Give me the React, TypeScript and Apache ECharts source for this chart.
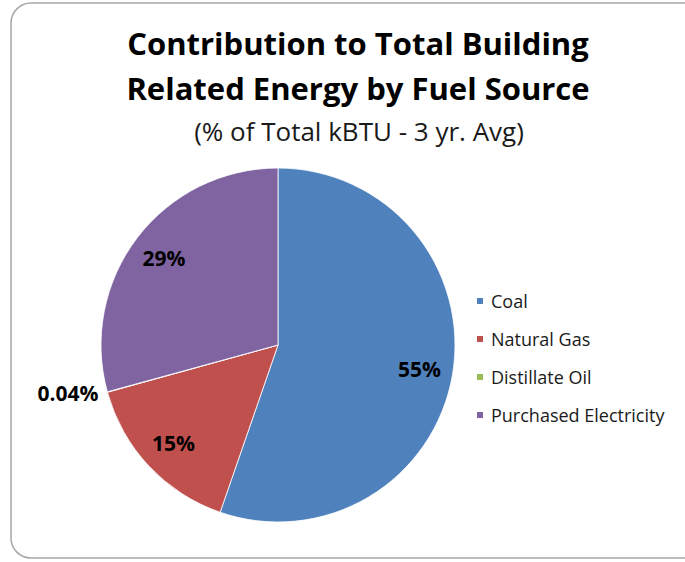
import React, { useEffect, useRef } from "react";
import * as echarts from "echarts";

const categories = ["Coal", "Natural Gas", "Distillate Oil", "Purchased Electricity"];
const values = [55.3, 15.4, 0.04, 29.26];
const valueLabels = ["55%", "15%", "0.04%", "29%"];
const colors = ["#4F81BD", "#C0504D", "#9BBB59", "#8064A2"];
const outsideLabel = [false, false, true, false];

const FONT = "'Open Sans', Lato, sans-serif";

export default function App() {
  const ref = useRef<HTMLDivElement>(null);
  useEffect(() => {
    if (!ref.current) return;
    const chart = echarts.init(ref.current, undefined, { renderer: "svg" });
    const center = [278, 345];
    const R = 177;
    const labelStyle = {
      fontSize: 21,
      fontWeight: "bold",
      color: "#000",
      fontFamily: FONT,
    };
    const mainData = categories.map((name, i) => ({
      name,
      value: values[i],
      itemStyle: { color: colors[i] },
      label: outsideLabel[i]
        ? { show: true, position: "outside", formatter: valueLabels[i], ...labelStyle }
        : { show: false },
      labelLine: { show: false, length: 4, length2: 0 },
    }));
    const overlayData = categories.map((name, i) => ({
      name,
      value: values[i],
      itemStyle: { color: "rgba(0,0,0,0)" },
      label: outsideLabel[i]
        ? { show: false }
        : { show: true, position: "inside", formatter: valueLabels[i], ...labelStyle },
    }));
    chart.setOption({
      animation: false,
      backgroundColor: "#fff",
      title: [
        {
          text: "Contribution to Total Building\nRelated Energy by Fuel Source",
          left: 353,
          top: 15,
          textAlign: "center",
          textStyle: {
            fontFamily: FONT,
            fontSize: 31,
            fontWeight: "bold",
            color: "#000",
            lineHeight: 45,
          },
        },
        {
          text: "(% of Total kBTU - 3 yr. Avg)",
          left: 354,
          top: 113,
          textAlign: "center",
          textStyle: {
            fontFamily: FONT,
            fontSize: 26,
            fontWeight: "normal",
            color: "#1a1a1a",
          },
        },
      ],
      legend: {
        orient: "vertical",
        left: 470,
        top: 287,
        data: categories,
        itemWidth: 8,
        itemHeight: 8,
        itemGap: 20,
        icon: "rect",
        textStyle: { fontFamily: FONT, fontSize: 18, color: "#1a1a1a", padding: [0, 0, 0, 2] },
        selectedMode: false,
      },
      graphic: [
        {
          type: "rect",
          shape: { x: 11, y: 3, width: 720, height: 555, r: 20 },
          style: { fill: "none", stroke: "#a6a6a6", lineWidth: 1.5 },
          silent: true,
          z: -1,
        },
      ],
      series: [
        {
          type: "pie",
          center,
          radius: [0, R],
          startAngle: 90,
          clockwise: true,
          avoidLabelOverlap: false,
          itemStyle: { borderColor: "#fff", borderWidth: 0.8 },
          emphasis: { disabled: true },
          data: mainData,
        },
        {
          type: "pie",
          center,
          radius: [104, R],
          startAngle: 90,
          clockwise: true,
          silent: true,
          avoidLabelOverlap: false,
          emphasis: { disabled: true },
          labelLine: { show: false },
          data: overlayData,
          z: 3,
        },
      ],
    });
    return () => chart.dispose();
  }, []);
  return (
    <div
      ref={ref}
      style={{ position: "absolute", left: 0, top: 0, width: 685, height: 562 }}
    />
  );
}
